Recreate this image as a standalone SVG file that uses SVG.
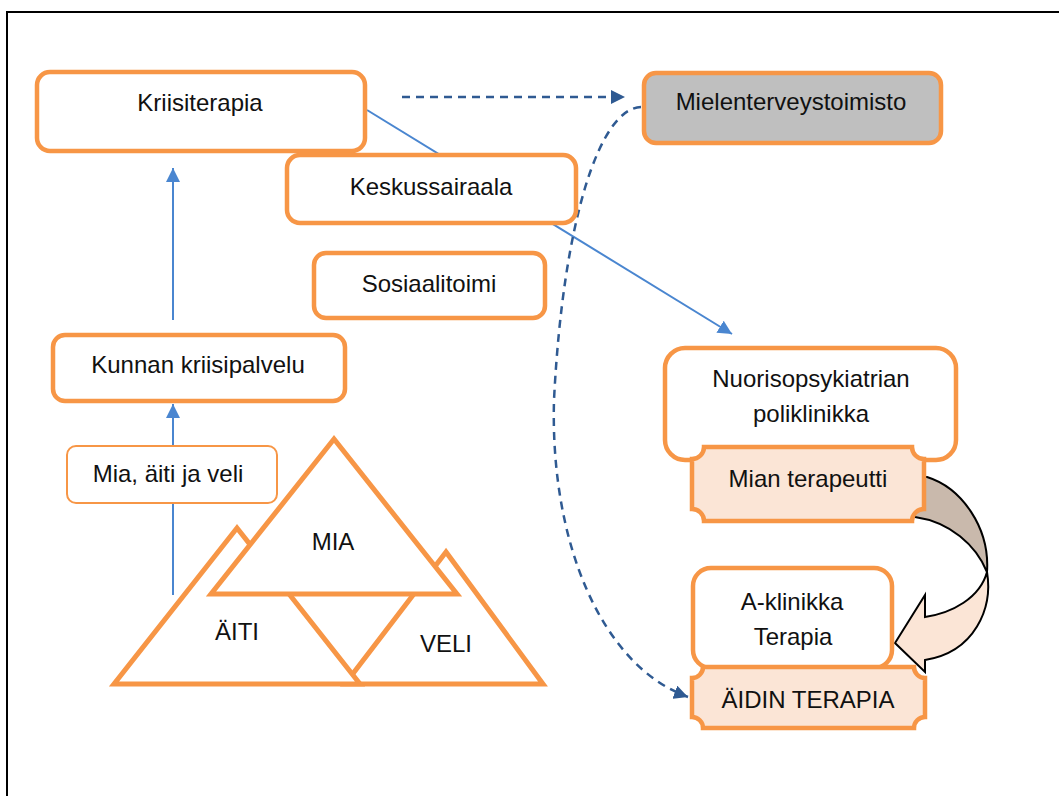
<svg xmlns="http://www.w3.org/2000/svg" width="1059" height="796" viewBox="0 0 1059 796">
  <defs>
    <marker id="headBlue" viewBox="0 0 14 14" refX="14" refY="7" markerWidth="14" markerHeight="14" markerUnits="userSpaceOnUse" orient="auto">
      <path d="M0,0 L14,7 L0,14 Z" fill="#4A86D0"/>
    </marker>
    <marker id="headNavy" viewBox="0 0 14 14" refX="14" refY="7" markerWidth="14" markerHeight="14" markerUnits="userSpaceOnUse" orient="auto">
      <path d="M0,0 L14,7 L0,14 Z" fill="#2F5A92"/>
    </marker>
  </defs>
  <style>
    text { font-family: "Liberation Sans", Arial, sans-serif; font-size: 24px; fill: #111; text-anchor: middle; }
    .box { fill: #fff; stroke: #F79646; stroke-width: 4.5; }
    .thin { fill: #fff; stroke: #F79646; stroke-width: 2; }
    .grey { fill: #BFBFBF; stroke: #F79646; stroke-width: 4.5; }
    .plaque { fill: #FBE5D6; stroke: #F79646; stroke-width: 4.5; }
    .tri { fill: #fff; stroke: #F79646; stroke-width: 5; stroke-linejoin: miter; }
    .solid { fill: none; stroke: #4A86D0; stroke-width: 2; }
    .dash { fill: none; stroke: #2F5A92; stroke-width: 2.5; stroke-dasharray: 8 6; }
    .band { stroke: #000; stroke-width: 2; stroke-linejoin: miter; }
  </style>

  <!-- page frame -->
  <rect x="7" y="12" width="1100" height="900" fill="#fff" stroke="#000" stroke-width="2"/>

  <g id="connectors">
    <line class="solid" x1="367" y1="110" x2="732" y2="334" marker-end="url(#headBlue)"/>
    <line class="solid" x1="173" y1="320" x2="173" y2="168" marker-end="url(#headBlue)"/>
    <line class="solid" x1="173" y1="595" x2="173" y2="404" marker-end="url(#headBlue)"/>
    <line class="dash" x1="402" y1="97" x2="625" y2="97" marker-end="url(#headNavy)"/>
    <path class="dash" d="M641,107 C600,108 563,220 554,400 C550,540 600,665 688,697" marker-end="url(#headNavy)"/>
    <!-- curved block arrow between the two therapy plaques -->
    <path class="band" fill="#C9B9AC" d="M905,476 L927,477 C962,488 990,528 987,572 C976,545 950,522 915,517 L905,517 Z"/>
    <path class="band" fill="#FBE5D6" d="M987,572 C993,608 975,652 925,660 L925,672 L895,643 L925,595 L925,617 C952,613 980,598 987,572 Z"/>
  </g>

  <g id="kriisiterapia">
    <rect class="box" x="37" y="72" width="328" height="79" rx="13"/>
    <text x="200" y="111">Kriisiterapia</text>
  </g>

  <g id="keskussairaala">
    <rect class="box" x="287" y="155" width="289" height="68" rx="13"/>
    <text x="431" y="195">Keskussairaala</text>
  </g>

  <g id="sosiaalitoimi">
    <rect class="box" x="314" y="253" width="231" height="65" rx="12"/>
    <text x="429" y="292">Sosiaalitoimi</text>
  </g>

  <g id="mielenterveystoimisto">
    <rect class="grey" x="644" y="73" width="297" height="70" rx="12"/>
    <text x="791" y="110">Mielenterveystoimisto</text>
  </g>

  <g id="kunnan-kriisipalvelu">
    <rect class="box" x="53" y="335" width="292" height="66" rx="12"/>
    <text x="198" y="373">Kunnan kriisipalvelu</text>
  </g>

  <g id="mia-aiti-veli">
    <rect class="thin" x="67" y="446" width="210" height="57" rx="9"/>
    <text x="168" y="482">Mia, äiti ja veli</text>
  </g>

  <g id="family">
    <polygon class="tri" points="446,552 345,684 543,684"/>
    <polygon class="tri" points="237,528 114,684 360,684"/>
    <polygon class="tri" points="334,439 211,594 457,594"/>
    <text x="333" y="550">MIA</text>
    <text x="237" y="640">ÄITI</text>
    <text x="446" y="652">VELI</text>
  </g>

  <g id="nuorisopsykiatria">
    <rect class="box" x="665" y="348" width="291" height="112" rx="20"/>
    <text x="811" y="387">Nuorisopsykiatrian</text>
    <text x="811" y="422">poliklinikka</text>
  </g>

  <g id="mian-terapeutti">
    <path class="plaque" d="M704,447 L912,447 A12,12 0 0 0 924,459 L924,509 A12,12 0 0 0 912,521 L704,521 A12,12 0 0 0 692,509 L692,459 A12,12 0 0 0 704,447 Z"/>
    <text x="808" y="487">Mian terapeutti</text>
  </g>

  <g id="a-klinikka">
    <rect class="box" x="693" y="568" width="199" height="100" rx="18"/>
    <text x="792" y="610">A-klinikka</text>
    <text x="793" y="645">Terapia</text>
  </g>

  <g id="aidin-terapia">
    <path class="plaque" d="M703,667 L914,667 A11,11 0 0 0 925,678 L925,717 A11,11 0 0 0 914,728 L703,728 A11,11 0 0 0 692,717 L692,678 A11,11 0 0 0 703,667 Z"/>
    <text x="808" y="708">ÄIDIN TERAPIA</text>
  </g>
</svg>
